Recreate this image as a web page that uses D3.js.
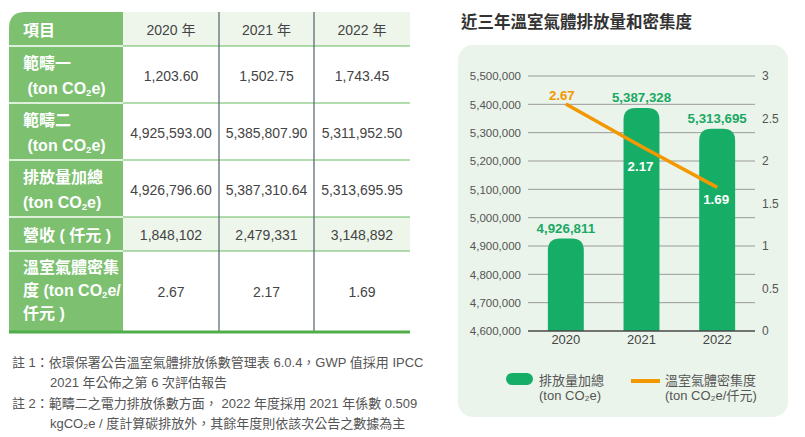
<!DOCTYPE html>
<html>
<head>
<meta charset="utf-8">
<script src="https://cdn.jsdelivr.net/npm/d3@7"></script>
<style>
  html, body { margin: 0; padding: 0; background: #ffffff; }
  svg { display: block; font-family: "Liberation Sans", Arial, "Noto Sans CJK TC", sans-serif; }
</style>
</head>
<body>
<svg id="root" width="805" height="437"></svg>
<script>
// ---------- DATA ----------
const tableHeader = "項目";
const tableYears = ["2020 年", "2021 年", "2022 年"];
const tableRowLabels = [
  ["範疇一", " (ton CO₂e)"],
  ["範疇二", " (ton CO₂e)"],
  ["排放量加總", "(ton CO₂e)"],
  ["營收 ( 仟元 )"],
  ["溫室氣體密集", "度 (ton CO₂e/", "仟元 )"]
];
const scope1 = ["1,203.60", "1,502.75", "1,743.45"];
const scope2 = ["4,925,593.00", "5,385,807.90", "5,311,952.50"];
const totalEmission = ["4,926,796.60", "5,387,310.64", "5,313,695.95"];
const revenue = ["1,848,102", "2,479,331", "3,148,892"];
const intensityText = ["2.67", "2.17", "1.69"];
const notes = [
  ["註 1：依環保署公告溫室氣體排放係數管理表 6.0.4，GWP 值採用 IPCC", "2021 年公佈之第 6 次評估報告"],
  ["註 2：範疇二之電力排放係數方面， 2022 年度採用 2021 年係數 0.509", "kgCO₂e / 度計算碳排放外，其餘年度則依該次公告之數據為主"]
];

const chartTitle = "近三年溫室氣體排放量和密集度";
const years = ["2020", "2021", "2022"];
const emissions = [4926811, 5387328, 5313695];
const intensity = [2.67, 2.17, 1.69];
const leftTicks = [4600000, 4700000, 4800000, 4900000, 5000000, 5100000, 5200000, 5300000, 5400000, 5500000];
const rightTicks = [0, 0.5, 1, 1.5, 2, 2.5, 3];
const legendLabels = [["排放量加總", "(ton CO₂e)"], ["溫室氣體密集度", "(ton CO₂e/仟元)"]];

// ---------- STYLE ----------
const C = {
  green: "#7cc070", headBg: "#eef6ec", hLine: "#69bb5e", vLine: "#5d6c78",
  text: "#444", bar: "#16ae67", barLabel: "#1aa865", orange: "#f39800",
  panel: "#eaf4ea", grid: "#9a9a9a", axis: "#4a4a4a", tick: "#555"
};

const svg = d3.select("#root");

// ---------- TABLE ----------
const colX = [9, 123, 219, 314, 410];
const rowY = [12, 46, 103, 160, 217, 251, 331];
const tableRows = [scope1, scope2, totalEmission, revenue, intensityText];
const labelLineY = [[63, 88], [120, 145], [177, 202], [235], [267, 290, 313]];

const tbl = svg.append("g");

// header data background
tbl.append("rect").attr("x", colX[1]).attr("y", rowY[0]).attr("width", colX[4] - colX[1]).attr("height", rowY[1] - rowY[0]).attr("fill", C.headBg);
// revenue row background
tbl.append("rect").attr("x", colX[1]).attr("y", rowY[4]).attr("width", colX[4] - colX[1]).attr("height", rowY[5] - rowY[4]).attr("fill", C.headBg);

// label column (green) with rounded top-left corner
const r = 16;
tbl.append("path")
  .attr("d", `M${colX[0]},${rowY[6]} L${colX[0]},${rowY[0] + r} Q${colX[0]},${rowY[0]} ${colX[0] + r},${rowY[0]} L${colX[1]},${rowY[0]} L${colX[1]},${rowY[6]} Z`)
  .attr("fill", C.green);
// white separators in label column
rowY.slice(1, 6).forEach(y => {
  tbl.append("line").attr("x1", colX[0]).attr("x2", colX[1]).attr("y1", y).attr("y2", y).attr("stroke", "#ffffff").attr("stroke-width", 1.5);
});
// green separators in data area
rowY.slice(1, 6).forEach(y => {
  tbl.append("line").attr("x1", colX[1]).attr("x2", colX[4]).attr("y1", y).attr("y2", y).attr("stroke", C.hLine).attr("stroke-width", 1.2);
});
// vertical separators
[colX[2], colX[3]].forEach(x => {
  tbl.append("line").attr("x1", x).attr("x2", x).attr("y1", rowY[0]).attr("y2", rowY[6]).attr("stroke", C.vLine).attr("stroke-width", 1.3);
});
// bottom thick line
tbl.append("line").attr("x1", colX[0]).attr("x2", colX[4]).attr("y1", rowY[6] + 1).attr("y2", rowY[6] + 1).attr("stroke", "#4fae4a").attr("stroke-width", 3);

// text with CO₂ subscript
function addRich(g, str, x, y, opts) {
  const t = g.append("text").attr("x", x).attr("y", y)
    .attr("font-size", opts.size).attr("font-weight", opts.weight || "normal")
    .attr("fill", opts.fill).attr("text-anchor", opts.anchor || "start")
    .attr("dominant-baseline", "central").style("white-space", "pre");
  const parts = str.split("₂");
  if (parts.length === 1 || !opts.sub) { t.text(str); return t; }
  t.append("tspan").text(parts[0]);
  t.append("tspan").text("2").attr("font-size", opts.size * 0.6).attr("dy", opts.size * 0.25);
  t.append("tspan").text(parts[1]).attr("dy", -opts.size * 0.25);
  return t;
}

addRich(tbl, tableHeader, 23, 30, { size: 16, weight: "bold", fill: "#ffffff" });
tableYears.forEach((yv, i) => {
  addRich(tbl, yv, (colX[i + 1] + colX[i + 2]) / 2, 30, { size: 14, fill: C.text, anchor: "middle" });
});
tableRowLabels.forEach((lines, ri) => {
  lines.forEach((ln, li) => {
    addRich(tbl, ln, 23, labelLineY[ri][li], { size: 16, weight: "bold", fill: "#ffffff", sub: true });
  });
});
tableRows.forEach((vals, ri) => {
  const cy = (rowY[ri + 1] + rowY[ri + 2]) / 2;
  vals.forEach((v, ci) => {
    addRich(tbl, v, (colX[ci + 1] + colX[ci + 2]) / 2, cy + 1, { size: 14, fill: C.text, anchor: "middle" });
  });
});

// notes
const noteY = [[362, 382], [403, 423]];
notes.forEach((lines, ni) => {
  lines.forEach((ln, li) => {
    svg.append("text").attr("x", li === 0 ? 12 : 50).attr("y", noteY[ni][li])
      .attr("dominant-baseline", "central").attr("font-size", 13).attr("fill", "#555")
      .style("white-space", "pre").text(ln);
  });
});

// ---------- CHART ----------
svg.append("text").attr("x", 461).attr("y", 21).attr("dominant-baseline", "central")
  .attr("font-size", 16.5).attr("font-weight", "bold").attr("fill", "#333")
  .attr("font-family", "'Noto Sans CJK TC', sans-serif").text(chartTitle);

svg.append("rect").attr("x", 458).attr("y", 45).attr("width", 330).attr("height", 372)
  .attr("rx", 15).attr("fill", C.panel);

const plot = { left: 528, right: 755, top: 76, bottom: 331 };
const x = d3.scaleBand().domain(years).range([plot.left, plot.right]).paddingInner(0.525).paddingOuter(0.2625);
const yL = d3.scaleLinear().domain([4600000, 5500000]).range([plot.bottom, plot.top]);
const yR = d3.scaleLinear().domain([0, 3]).range([plot.bottom, plot.top]);

const ch = svg.append("g");

// grid lines
ch.selectAll("line.grid").data(leftTicks.slice(1)).join("line")
  .attr("x1", plot.left).attr("x2", plot.right)
  .attr("y1", d => yL(d)).attr("y2", d => yL(d))
  .attr("stroke", C.grid).attr("stroke-width", 1);

// left axis
const leftAxis = ch.append("g").attr("transform", `translate(${plot.left - 7},0)`)
  .call(d3.axisLeft(yL).tickValues(leftTicks).tickFormat(d3.format(",")).tickSize(0).tickPadding(0));
leftAxis.select(".domain").remove();
leftAxis.selectAll("text").attr("font-size", 11.5).attr("fill", C.tick).attr("font-family", "'Liberation Sans', Arial, sans-serif");

// right axis
const rightAxis = ch.append("g").attr("transform", `translate(${plot.right + 7},0)`)
  .call(d3.axisRight(yR).tickValues(rightTicks).tickFormat(d => String(d)).tickSize(0).tickPadding(0));
rightAxis.select(".domain").remove();
rightAxis.selectAll("text").attr("font-size", 12).attr("fill", C.tick).attr("font-family", "'Liberation Sans', Arial, sans-serif");

// bars with rounded top
const rad = 12;
const bw = x.bandwidth();
ch.selectAll("path.bar").data(years).join("path")
  .attr("d", (d, i) => {
    const x0 = x(d), x1 = x0 + bw, yt = yL(emissions[i]), yb = yL.range()[0];
    return `M${x0},${yb} L${x0},${yt + rad} Q${x0},${yt} ${x0 + rad},${yt} L${x1 - rad},${yt} Q${x1},${yt} ${x1},${yt + rad} L${x1},${yb} Z`;
  })
  .attr("fill", C.bar);

// x axis line
ch.append("line").attr("x1", plot.left).attr("x2", plot.right)
  .attr("y1", plot.bottom).attr("y2", plot.bottom).attr("stroke", C.axis).attr("stroke-width", 1.3);

// x axis labels
const xAxis = ch.append("g").attr("transform", `translate(0,${plot.bottom + 4})`)
  .call(d3.axisBottom(x).tickSize(0).tickPadding(0));
xAxis.select(".domain").remove();
xAxis.selectAll("text").attr("font-size", 13).attr("fill", C.text).attr("font-family", "'Liberation Sans', Arial, sans-serif");

// bar labels
ch.selectAll("text.barlab").data(years).join("text")
  .attr("x", d => x(d) + bw / 2)
  .attr("y", (d, i) => yL(emissions[i]) - 10)
  .attr("text-anchor", "middle").attr("dominant-baseline", "central")
  .attr("font-size", 13.3).attr("font-weight", "bold").attr("fill", C.barLabel)
  .text((d, i) => d3.format(",")(emissions[i]));

// intensity line
const cx = d => x(d) + bw / 2;
ch.append("path").datum(years)
  .attr("d", d3.line().x(d => cx(d)).y((d, i) => yR(intensity[i])))
  .attr("fill", "none").attr("stroke", C.orange).attr("stroke-width", 3.5);

// intensity labels
const lineLabelDy = [-9, 20, 12];
const lineLabelDx = [-4, -1, -1];
ch.selectAll("text.linelab").data(years).join("text")
  .attr("x", (d, i) => cx(d) + lineLabelDx[i])
  .attr("y", (d, i) => yR(intensity[i]) + lineLabelDy[i])
  .attr("text-anchor", "middle").attr("dominant-baseline", "central")
  .attr("font-size", 13.3).attr("font-weight", "bold")
  .attr("fill", (d, i) => i === 0 ? C.orange : "#ffffff")
  .text((d, i) => intensity[i].toFixed(2));

// legend
const lg = svg.append("g");
lg.append("rect").attr("x", 506).attr("y", 373).attr("width", 27).attr("height", 12).attr("rx", 6).attr("fill", C.bar);
lg.append("line").attr("x1", 631).attr("x2", 660).attr("y1", 381).attr("y2", 381).attr("stroke", C.orange).attr("stroke-width", 4);
const legX = [539, 665];
legendLabels.forEach((lines, i) => {
  lines.forEach((ln, li) => {
    lg.append("text").attr("x", legX[i]).attr("y", 380 + li * 15).attr("dominant-baseline", "central")
      .attr("font-size", 13).attr("fill", "#555").text(ln);
  });
});
</script>
</body>
</html>
